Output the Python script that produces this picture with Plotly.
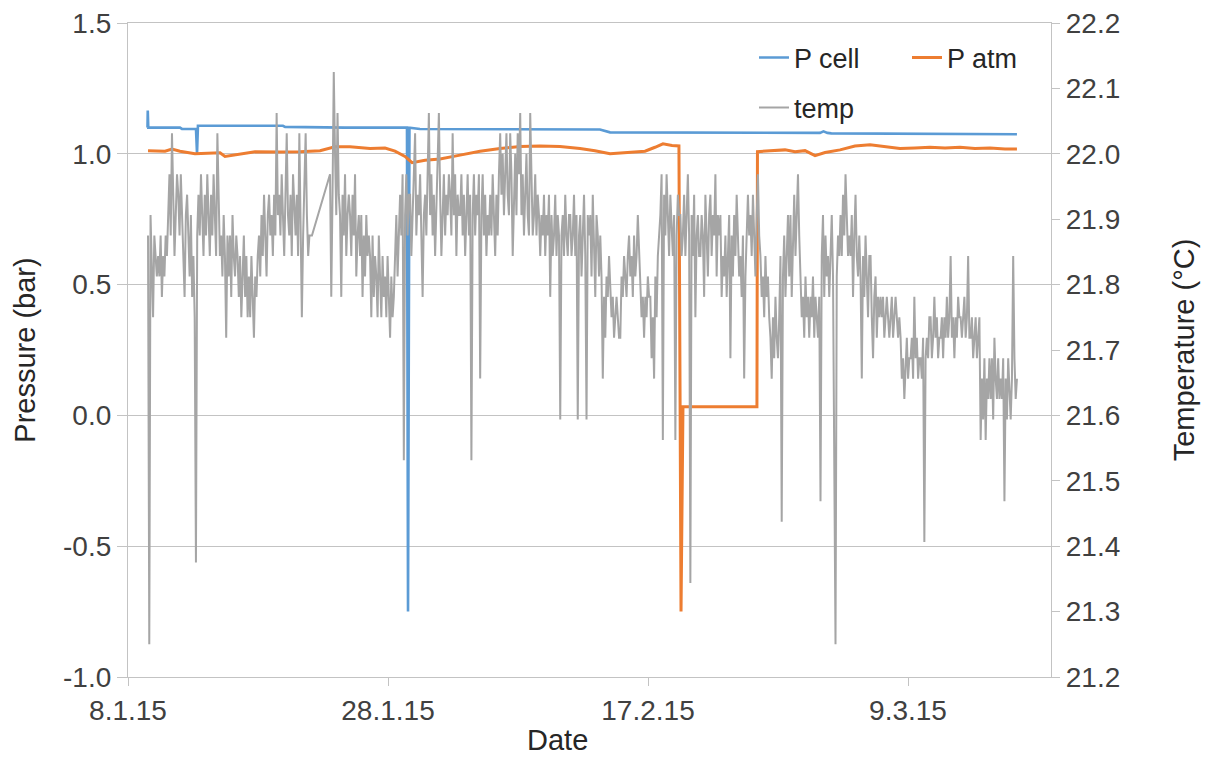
import numpy as np
import pandas as pd
import plotly.graph_objects as go

BASE = pd.Timestamp("2015-01-08")

# ---- P cell (days after 8.1.15, bar) ----
pcell_day = [1.50, 1.52, 1.56, 4.00, 4.15, 5.23, 5.31, 5.38, 11.92, 12.08, 16.70,
             21.46, 21.54, 21.65, 22.46, 36.30, 37.08, 53.23, 53.50, 53.80, 54.10, 68.38]
pcell_bar = [1.100, 1.165, 1.100, 1.100, 1.095, 1.095, 1.000, 1.107, 1.107, 1.103, 1.100,
             1.100, -0.750, 1.100, 1.095, 1.093, 1.082, 1.080, 1.086, 1.080, 1.078, 1.075]

# ---- P atm (days after 8.1.15, bar) ----
patm_day = [1.54, 2.85, 3.38, 4.00, 5.15, 6.31, 7.08, 7.46, 8.62, 9.77, 11.69, 13.23,
            14.77, 15.92, 17.08, 18.62, 19.77, 20.54, 21.31, 21.85, 22.85, 24.00, 25.54,
            27.08, 28.62, 30.15, 31.69, 33.23, 34.77, 35.92, 37.08, 38.23, 39.77, 40.54,
            41.15, 41.85, 42.38, 42.54, 42.69, 48.38, 48.42, 49.38, 50.54, 51.31, 52.08,
            52.85, 53.62, 54.77, 55.92, 57.08, 58.23, 59.38, 60.54, 61.69, 62.85, 64.00,
            65.15, 66.31, 67.46, 68.38]
patm_bar = [1.012, 1.010, 1.018, 1.010, 1.000, 1.003, 1.004, 0.990, 1.000, 1.008, 1.007, 1.008,
            1.012, 1.027, 1.027, 1.020, 1.022, 1.010, 0.990, 0.966, 0.975, 0.980, 0.995,
            1.010, 1.020, 1.028, 1.030, 1.028, 1.020, 1.012, 1.000, 1.005, 1.010, 1.025,
            1.038, 1.032, 1.030, -0.750, 0.033, 0.033, 1.008, 1.012, 1.015, 1.008, 1.012,
            0.993, 1.005, 1.015, 1.030, 1.035, 1.027, 1.020, 1.022, 1.025, 1.022, 1.025,
            1.020, 1.022, 1.018, 1.018]

# ---- temperature sensor readings in raw counts (1 count = 1/32 degC) ----
# logged in two runs with a gap in between (days after 8.1.15)
temp_run1_days = (1.54, 14.15)
temp_run2_days = (15.54, 68.38)
temp_run1_raw = [
    700, 680, 701, 698, 696, 700, 699, 698,
    699, 698, 700, 697, 699, 698, 700, 699,
    701, 703, 700, 705, 702, 699, 701, 703,
    702, 700, 703, 701, 699, 697, 701, 702,
    700, 698, 701, 697, 699, 696, 684, 700,
    702, 700, 703, 701, 699, 702, 700, 703,
    701, 699, 702, 700, 703, 701, 699, 705,
    701, 699, 700, 698, 701, 699, 695, 700,
    698, 700, 697, 701, 699, 698, 700, 699,
    697, 699, 696, 698, 700, 697, 699, 696,
    698, 696, 699, 697, 695, 698, 697, 699,
    700, 698, 701, 699, 702, 700, 698, 701,
    702, 700, 701, 699, 702, 700, 706, 701,
    702, 700, 703, 701, 699, 702, 705, 701,
    700, 702, 699, 703, 701, 700, 702, 699,
    705, 701, 696, 700, 702, 705, 701, 699,
    700, 700, 700]
temp_run2_raw = [
    703, 697, 702, 708, 704, 701, 706, 702,
    701, 697, 702, 700, 703, 699, 701, 702,
    701, 699, 702, 700, 703, 698, 700, 701,
    699, 701, 697, 700, 698, 701, 699, 700,
    699, 696, 700, 697, 699, 698, 696, 700,
    698, 696, 699, 697, 698, 696, 699, 697,
    695, 698, 696, 697, 699, 701, 698, 700,
    702, 700, 703, 689, 701, 703, 700, 702,
    702, 699, 701, 703, 705, 700, 702, 701,
    703, 700, 697, 701, 702, 700, 703, 706,
    701, 703, 700, 702, 699, 701, 703, 706,
    702, 699, 701, 703, 700, 702, 701, 703,
    702, 700, 705, 701, 703, 699, 702, 701,
    701, 703, 700, 702, 699, 701, 703, 700,
    702, 689, 701, 703, 700, 702, 701, 703,
    693, 701, 703, 700, 702, 699, 701, 700,
    702, 700, 703, 701, 699, 702, 700, 703,
    705, 702, 704, 701, 703, 705, 702, 701,
    705, 703, 699, 702, 704, 701, 705, 703,
    706, 701, 703, 700, 702, 704, 701, 700,
    706, 702, 700, 701, 703, 700, 702, 701,
    699, 701, 700, 702, 699, 701, 700, 702,
    697, 701, 699, 700, 702, 699, 701, 700,
    691, 700, 701, 699, 702, 700, 699, 701,
    701, 699, 700, 702, 699, 701, 691, 700,
    701, 698, 700, 702, 699, 691, 701, 700,
    701, 698, 702, 699, 697, 701, 700, 698,
    700, 698, 693, 697, 695, 698, 697, 699,
    697, 696, 697, 695, 696, 697, 696, 695,
    695, 698, 697, 699, 698, 697, 699, 700,
    698, 699, 697, 700, 698, 699, 701, 699,
    698, 696, 697, 695, 697, 696, 698, 697,
    697, 694, 696, 693, 698, 696, 699, 700,
    701, 703, 690, 702, 700, 703, 701, 699,
    702, 700, 699, 701, 690, 700, 702, 701,
    701, 699, 700, 702, 699, 701, 703, 700,
    683, 701, 699, 702, 696, 700, 701, 699,
    699, 701, 700, 697, 702, 700, 698, 701,
    702, 699, 701, 700, 703, 698, 701, 700,
    701, 697, 699, 698, 700, 697, 699, 701,
    694, 700, 698, 701, 699, 702, 700, 698,
    699, 697, 700, 693, 698, 700, 702, 700,
    701, 699, 702, 700, 698, 701, 703, 700,
    699, 697, 698, 696, 699, 697, 698, 696,
    695, 693, 696, 694, 697, 695, 694, 696,
    699, 686, 698, 700, 697, 699, 701, 698,
    701, 697, 700, 702, 699, 701, 703, 700,
    698, 696, 697, 695, 698, 696, 697, 695,
    697, 696, 698, 695, 697, 696, 695, 697,
    687, 699, 701, 697, 700, 698, 699, 697,
    699, 701, 698, 686, 680, 698, 700, 699,
    701, 699, 702, 700, 703, 701, 699, 700,
    699, 701, 697, 700, 702, 699, 698, 700,
    698, 693, 699, 697, 700, 698, 696, 699,
    699, 696, 694, 697, 698, 695, 697, 696,
    697, 696, 697, 695, 696, 697, 696, 695,
    696, 697, 695, 696, 697, 696, 695, 696,
    695, 693, 694, 692, 694, 695, 693, 694,
    694, 695, 693, 697, 694, 695, 693, 694,
    694, 693, 695, 685, 694, 695, 694, 696,
    696, 694, 695, 697, 695, 696, 694, 695,
    695, 696, 694, 696, 695, 697, 695, 696,
    699, 695, 696, 694, 696, 695, 697, 696,
    696, 695, 696, 697, 695, 696, 699, 695,
    695, 696, 694, 695, 696, 694, 695, 696,
    690, 693, 691, 694, 690, 693, 692, 694,
    692, 694, 691, 695, 693, 692, 694, 692,
    693, 692, 694, 687, 693, 691, 694, 692,
    691, 693, 699, 694, 692, 693]
COUNTS_PER_DEGC = 32

# ---- axes ----
x_range = ["2015-01-08", "2015-03-20"]
x_tick_dates = ["2015-01-08", "2015-01-28", "2015-02-17", "2015-03-09"]
x_tick_labels = ["8.1.15", "28.1.15", "17.2.15", "9.3.15"]
p_tick_vals = [-1.0, -0.5, 0.0, 0.5, 1.0, 1.5]
p_tick_labels = ["-1.0", "-0.5", "0.0", "0.5", "1.0", "1.5"]
t_range = [21.2, 22.2]


def to_dt(days):
    return BASE + pd.to_timedelta(np.asarray(days, dtype=float), unit="D")


temp_days = np.concatenate([
    np.linspace(temp_run1_days[0], temp_run1_days[1], len(temp_run1_raw)),
    np.linspace(temp_run2_days[0], temp_run2_days[1], len(temp_run2_raw)),
])
temp_c = np.array(temp_run1_raw + temp_run2_raw, dtype=float) / COUNTS_PER_DEGC

# page is rendered with the default 8px body margin
OFF = 8
W, H = 1212, 758
PL, PR, PT, PB = 128, 1051, 23, 677          # plot area in page pixels
ML, MT = PL - OFF, PT - OFF
MR, MB = W + OFF - PR, H + OFF - PB
PW, PH = PR - PL, PB - PT


def px_x(x):
    return (x - PL) / PW


def px_y(y):
    return (PB - y) / PH


GRID = "#c3c3c3"
TXT = "#404040"
TITLE = "#262626"

fig = go.Figure()
fig.add_trace(go.Scatter(x=to_dt(pcell_day), y=pcell_bar, name="P cell", mode="lines",
                         line=dict(color="#5b9bd5", width=2.6), legend="legend"))
fig.add_trace(go.Scatter(x=to_dt(patm_day), y=patm_bar, name="P atm", mode="lines",
                         line=dict(color="#ed7d31", width=3), legend="legend"))
fig.add_trace(go.Scatter(x=to_dt(temp_days), y=temp_c, name="temp", mode="lines",
                         line=dict(color="#a5a5a5", width=2.0), yaxis="y2", legend="legend2"))

fig.update_layout(
    width=W, height=H,
    margin=dict(l=ML, r=MR, t=MT, b=MB, autoexpand=False),
    paper_bgcolor="white", plot_bgcolor="white",
    font=dict(family="Liberation Sans", color=TXT),
    xaxis=dict(type="date", range=x_range, tickvals=x_tick_dates, ticktext=x_tick_labels,
               showgrid=False, showline=True, mirror=True, linecolor=GRID, linewidth=1.3,
               ticks="outside", ticklen=8, tickcolor=GRID, tickwidth=1.3, automargin=False,
               tickfont=dict(size=28, color=TXT), zeroline=False),
    yaxis=dict(range=[-1.0, 1.5], tickvals=p_tick_vals, ticktext=p_tick_labels,
               showgrid=True, gridcolor=GRID, gridwidth=1.3,
               showline=True, linecolor=GRID, linewidth=1.3,
               ticks="outside", ticklen=10, tickcolor=GRID, tickwidth=1.3, automargin=False,
               tickfont=dict(size=28, color=TXT), zeroline=False, ticklabeloverflow="allow",
               title=dict(text="Pressure (bar)", font=dict(size=29, color=TITLE), standoff=18)),
    yaxis2=dict(range=t_range, dtick=0.1, tick0=21.2, tickformat=".1f", overlaying="y", side="right",
                showgrid=False, showline=True, linecolor=GRID, linewidth=1.3,
                ticks="outside", ticklen=8, tickcolor=GRID, tickwidth=1.3, automargin=False,
                tickfont=dict(size=28, color=TXT), zeroline=False, ticklabeloverflow="allow",
                title=dict(text="Temperature (°C)", font=dict(size=29, color=TITLE), standoff=54)),
    legend=dict(orientation="h", x=px_x(754), y=px_y(58), xanchor="left", yanchor="middle",
                entrywidth=108, entrywidthmode="pixels", bgcolor="rgba(0,0,0,0)",
                font=dict(size=27, color=TITLE)),
    legend2=dict(orientation="h", x=px_x(754), y=px_y(108), xanchor="left", yanchor="middle",
                 bgcolor="rgba(0,0,0,0)", font=dict(size=27, color=TITLE)),
    annotations=[dict(text="Date", x=px_x(557), y=px_y(740), xref="paper", yref="paper",
                      xanchor="center", yanchor="middle", showarrow=False,
                      font=dict(size=29, color=TITLE))],
)

fig.write_html("out.html")
